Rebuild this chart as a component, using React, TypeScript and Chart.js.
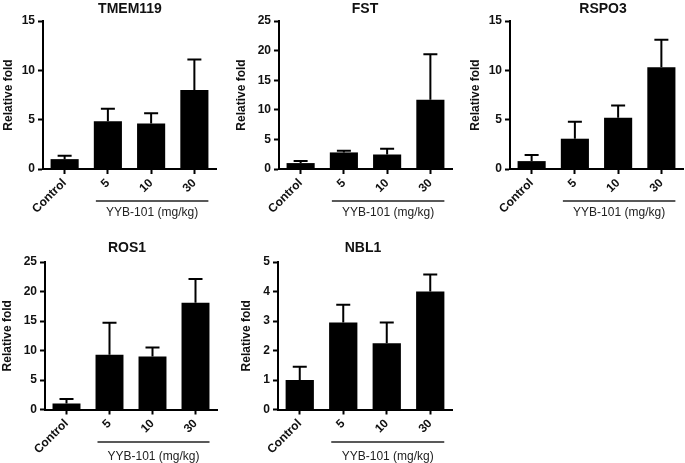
import React, { useEffect, useRef } from "react";
import { Chart, registerables } from "chart.js";

Chart.register(...registerables);

// ---------- data ----------
const categories = ["Control", "5", "10", "30"];
const groupLabel = "YYB-101 (mg/kg)";
const yAxisLabel = "Relative fold";

const tmem119Means = [1.0, 4.85, 4.6, 8.0];
const tmem119Errors = [0.35, 1.25, 1.05, 3.1];

const fstMeans = [1.0, 2.8, 2.45, 11.7];
const fstErrors = [0.35, 0.3, 0.95, 7.7];

const rspo3Means = [0.8, 3.07, 5.2, 10.3];
const rspo3Errors = [0.63, 1.73, 1.23, 2.8];

const ros1Means = [1.0, 9.3, 9.0, 18.1];
const ros1Errors = [0.8, 5.4, 1.5, 4.0];

const nbl1Means = [1.0, 2.95, 2.25, 4.0];
const nbl1Errors = [0.45, 0.6, 0.7, 0.58];

// ---------- layout (page coordinates) ----------
const FONT = "'Liberation Sans', Arial, Helvetica, sans-serif";

type PanelSpec = {
  title: string;
  means: number[];
  errors: number[];
  yMax: number;
  yStep: number;
  canvas: [number, number, number, number]; // x, y, w, h
  plot: [number, number, number, number]; // left, top, right, bottom
  titleX: number;
  titleY: number;
  yTitleX: number;
  bracketY: number;
  groupTextY: number;
};

const panels: PanelSpec[] = [
  {
    title: "TMEM119", means: tmem119Means, errors: tmem119Errors, yMax: 15, yStep: 5,
    canvas: [0, 0, 232, 230], plot: [43, 21, 216, 169],
    titleX: 130, titleY: 9, yTitleX: 9, bracketY: 201, groupTextY: 213,
  },
  {
    title: "FST", means: fstMeans, errors: fstErrors, yMax: 25, yStep: 5,
    canvas: [232, 0, 230, 230], plot: [279, 21, 452, 169],
    titleX: 365, titleY: 9, yTitleX: 242, bracketY: 201, groupTextY: 213,
  },
  {
    title: "RSPO3", means: rspo3Means, errors: rspo3Errors, yMax: 15, yStep: 5,
    canvas: [462, 0, 223, 230], plot: [510, 21, 683, 169],
    titleX: 603, titleY: 9, yTitleX: 476, bracketY: 201, groupTextY: 213,
  },
  {
    title: "ROS1", means: ros1Means, errors: ros1Errors, yMax: 25, yStep: 5,
    canvas: [0, 230, 232, 233], plot: [45, 262, 217, 409.5],
    titleX: 127, titleY: 248, yTitleX: 8, bracketY: 442, groupTextY: 457,
  },
  {
    title: "NBL1", means: nbl1Means, errors: nbl1Errors, yMax: 5, yStep: 1,
    canvas: [232, 230, 230, 233], plot: [278, 262, 452, 409.5],
    titleX: 363, titleY: 248, yTitleX: 247, bracketY: 442, groupTextY: 457,
  },
];

const decorPlugin = {
  id: "decor",
  afterDatasetsDraw(chart: any, _args: any, opts: any) {
    const ctx = chart.ctx;
    const meta = chart.getDatasetMeta(0);
    const ys = chart.scales.y;
    const vals = chart.data.datasets[0].data as number[];
    ctx.save();
    ctx.strokeStyle = "#000";
    ctx.lineWidth = 2;
    meta.data.forEach((bar: any, i: number) => {
      const top = ys.getPixelForValue(vals[i] + opts.errors[i]);
      const x = bar.x;
      ctx.beginPath();
      ctx.moveTo(x, bar.y);
      ctx.lineTo(x, top);
      ctx.moveTo(x - 7, top);
      ctx.lineTo(x + 7, top);
      ctx.stroke();
    });
    ctx.restore();
  },
  afterDraw(chart: any, _args: any, opts: any) {
    const ctx = chart.ctx;
    const xs = chart.scales.x;
    const area = chart.chartArea;
    ctx.save();
    ctx.fillStyle = "#111";
    // title
    ctx.font = `bold 14px ${FONT}`;
    ctx.textAlign = "center";
    ctx.textBaseline = "middle";
    ctx.fillText(opts.title, opts.titleX, opts.titleY);
    // y axis title
    ctx.save();
    ctx.translate(opts.yTitleX, (area.top + area.bottom) / 2);
    ctx.rotate(-Math.PI / 2);
    ctx.font = `bold 12px ${FONT}`;
    ctx.fillText(yAxisLabel, 0, 0);
    ctx.restore();
    // bracket
    const x1 = xs.getPixelForValue(1) - 12;
    const x2 = xs.getPixelForValue(3) + 14;
    ctx.strokeStyle = "#222";
    ctx.lineWidth = 1.5;
    ctx.beginPath();
    ctx.moveTo(x1, opts.bracketY);
    ctx.lineTo(x2, opts.bracketY);
    ctx.stroke();
    ctx.font = `12px ${FONT}`;
    ctx.fillStyle = "#222";
    ctx.fillText(groupLabel, (x1 + x2) / 2, opts.groupTextY);
    ctx.restore();
  },
};

function Panel({ spec }: { spec: PanelSpec }) {
  const ref = useRef<HTMLCanvasElement | null>(null);
  useEffect(() => {
    const [cx, cy, cw, ch] = spec.canvas;
    const [pl, pt, pr, pb] = spec.plot;
    const left = pl - cx;
    const top = pt - cy;
    const right = pr - cx;
    const bottom = pb - cy;
    const chart = new Chart(ref.current as HTMLCanvasElement, {
      type: "bar",
      data: {
        labels: categories,
        datasets: [
          {
            data: spec.means,
            backgroundColor: "#000",
            borderWidth: 0,
            barPercentage: 0.65,
            categoryPercentage: 1,
          },
        ],
      },
      options: {
        responsive: false,
        animation: false,
        devicePixelRatio: 1,
        layout: { padding: { top, right: cw - right, left: 0, bottom: 0 } },
        plugins: {
          legend: { display: false },
          tooltip: { enabled: false },
          decor: {
            title: spec.title,
            errors: spec.errors,
            titleX: spec.titleX - cx,
            titleY: spec.titleY - cy,
            yTitleX: spec.yTitleX - cx,
            bracketY: spec.bracketY - cy,
            groupTextY: spec.groupTextY - cy,
          },
        } as any,
        scales: {
          x: {
            type: "category",
            offset: true,
            grid: {
              display: true,
              drawOnChartArea: false,
              offset: false,
              tickLength: 5,
              tickWidth: 2,
              tickColor: "#000",
            },
            border: { display: true, color: "#000", width: 2 },
            ticks: {
              color: "#111",
              font: { family: FONT, size: 12, weight: "bold" },
              maxRotation: 45,
              minRotation: 45,
              autoSkip: false,
              padding: 2,
            },
            afterFit: (s: any) => {
              s.height = ch - bottom;
            },
          },
          y: {
            min: 0,
            max: spec.yMax,
            ticks: {
              stepSize: spec.yStep,
              color: "#111",
              font: { family: FONT, size: 12, weight: "bold" },
              padding: 3,
            },
            grid: {
              display: true,
              drawOnChartArea: false,
              tickLength: 5,
              tickWidth: 2,
              tickColor: "#000",
            },
            border: { display: true, color: "#000", width: 2 },
            afterFit: (s: any) => {
              s.width = left;
            },
          },
        },
      } as any,
      plugins: [decorPlugin as any],
    });
    return () => chart.destroy();
  }, [spec]);
  const [cx, cy, cw, ch] = spec.canvas;
  return (
    <canvas
      ref={ref}
      width={cw}
      height={ch}
      style={{ position: "absolute", left: cx, top: cy, width: cw, height: ch }}
    />
  );
}

export default function App() {
  return (
    <div
      style={{
        position: "absolute",
        left: 0,
        top: 0,
        width: 685,
        height: 463,
        background: "#fff",
        overflow: "hidden",
      }}
    >
      {panels.map((p) => (
        <Panel key={p.title} spec={p} />
      ))}
    </div>
  );
}
